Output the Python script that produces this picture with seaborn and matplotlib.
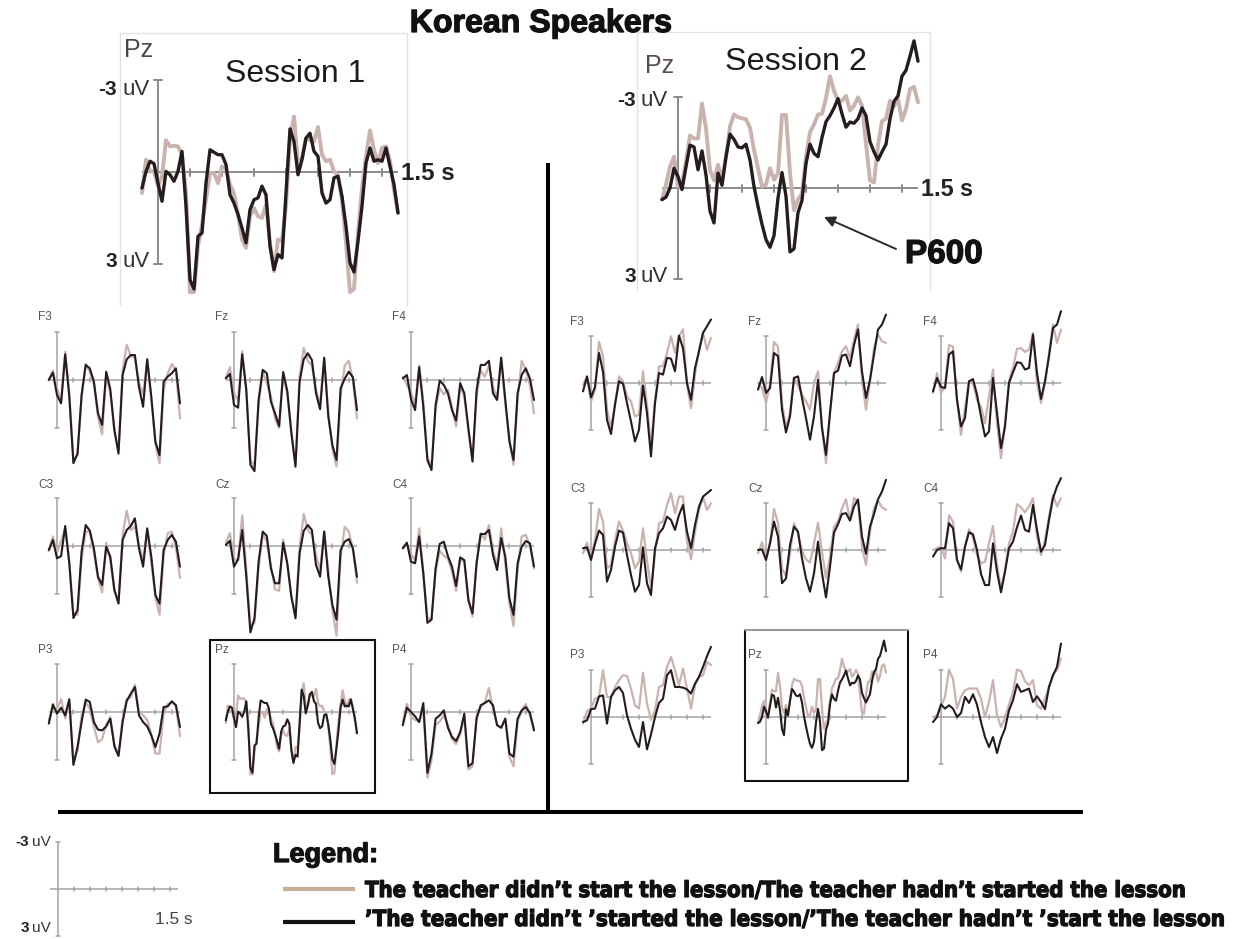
import numpy as np
import matplotlib
matplotlib.use("Agg")
import matplotlib.pyplot as plt
import matplotlib.patheffects as pe
from matplotlib.patches import Rectangle
from matplotlib import font_manager
from matplotlib.font_manager import FontProperties
import seaborn as sns

sns.set_theme(style="white")
plt.rcParams["font.family"] = ["Liberation Sans", "DejaVu Sans"]

W, H = 1245, 939

# ---------------------------------------------------------------- sample times (s)
t_fine = np.round(np.linspace(-0.1, 1.5, 65), 4)
t_coarse = np.round(np.linspace(-0.1, 1.5, 33), 4)

# ---------------------------------------------------------------- amplitudes (uV, negative plotted up)
# Session 1, enlarged Pz
s1_pz_light = [0.68, -0.40, -0.02, -0.02, 0.46, 0.14, -1.03, -0.83, -0.85, -0.83,
               -0.56, 0.68, 3.9, 3.9, 2.41, 1.71, 0.90, 0.03, 0.03, 0.36,
               -0.18, -0.10, 0.41, 0.70, 1.38, 2.19, 2.46, 1.44, 1.17, 1.44,
               1.49, 1.06, 2.30, 3.22, 2.19, 2.25, 1.11, -1.10, -1.8, -0.29,
               -0.45, -1.10, -1.03, -0.99, -1.46, -0.56, -0.35, -0.40, -0.02, 0.12,
               0.90, 2.30, 3.9, 3.8, 1.98, 0.52, -0.51, -1.35, -0.72, -0.29,
               -0.78, -0.83, -0.35, 0.57, 1.33]
s1_pz_dark = [0.52, -0.02, -0.35, -0.27, 0.36, 0.95, -0.02, 0.09, 0.30, -0.02,
              -0.67, 1.11, 3.5, 3.8, 2.09, 1.98, 0.36, -0.72, -0.64, -0.56,
              -0.56, -0.24, 0.74, 1.01, 1.38, 1.82, 2.3, 1.22, 0.90, 0.84,
              0.46, 0.74, 2.41, 3.17, 2.68, 2.79, 0.68, -1.4, -0.99, 0.09,
              -0.40, -1.10, -1.26, -0.67, -0.51, 0.68, 1.01, 0.90, 0.19, 0.14,
              0.79, 1.76, 2.95, 3.25, 2.25, 1.11, -0.29, -0.78, -0.35, -0.40,
              -0.35, -0.78, -0.18, 0.41, 1.33]

# Session 2, enlarged Pz
s2_pz_light = [0.38, -0.11, -0.70, -1.03, -0.05, -0.16, -0.87, -1.73, -1.63, -1.63,
               -2.78, -1.95, -0.60, -0.25, -0.76, -0.27, -1.03, -2.03, -2.42, -2.33,
               -2.29, -2.26, -1.98, -1.25, -0.65, -0.05, -0.11, -0.65, -0.27, -0.49,
               -2.4, -2.4, -0.49, 0.73, 0.38, 0.18, -1.03, -1.84, -2.09, -2.42,
               -2.44, -2.96, -3.68, -3.20, -2.87, -2.87, -3.03, -2.55, -2.71, -2.98,
               -2.71, -1.46, -0.25, -0.18, -1.41, -2.20, -2.28, -2.87, -2.69, -2.93,
               -2.22, -2.60, -3.25, -3.33, -2.82]
s2_pz_dark = [0.38, 0.3, 0.0, -0.65, -0.38, 0.05, -0.70, -1.41, -1.35, -0.60,
              -1.22, -0.43, 0.76, 1.15, -0.49, -0.09, -1.03, -1.77, -1.60, -1.35,
              -1.32, -1.44, -0.92, -0.05, 0.60, 1.19, 1.70, 1.95, 1.57, 0.33,
              -0.51, 0.27, 2.1, 2.0, 0.81, 0.41, -0.81, -1.44, -1.14, -1.03,
              -1.66, -2.18, -2.38, -2.63, -2.94, -2.44, -2.0, -2.17, -2.13, -2.28,
              -2.63, -2.38, -1.52, -1.19, -0.92, -1.19, -1.44, -2.28, -2.85, -3.03,
              -3.68, -3.87, -4.34, -4.84, -4.17]

# Session 1, scalp sites
s1_f3_light = [0.0, -0.6, 0.5, 1.3, -1.77, 0.8, 5.0, 4.7, 1.0, -1.0, -0.5, 0.3, 2.3, 3.4, -0.3, 0.8, 3.2,
               4.4, -0.6, -2.2, -1.5, -1.4, 0.2, 0.9, -1.2, 1.2, 4.0, 5.2, 0.6, -0.4, -1.0, -0.6, 2.4]
s1_f3_dark = [0.0, -0.46, 0.94, 1.46, -1.6, 1.04, 5.2, 4.6, 0.94, -0.94, -0.73, 0.1, 2.08, 2.81, -0.52, 0.58,
              3.13, 4.6, -0.31, -1.29, -1.56, -1.56, 0.46, 1.67, -1.3, 1.04, 3.85, 4.7, 0.1, -0.21, -0.42, -0.73, 1.46]
s1_fz_light = [-0.1, -0.8, 0.8, 1.3, -1.8, 0.6, 5.0, 5.4, 1.5, -0.5, 0.2, 1.0, 2.4, 3.0, -0.4, 0.9, 3.3,
               5.2, -0.2, -2.0, -1.2, -0.9, 0.6, 1.5, -1.3, 2.0, 4.3, 5.4, 1.0, -0.9, -1.2, 0.0, 2.4]
s1_fz_dark = [-0.1, -0.38, 1.56, 1.73, -1.6, 0.63, 5.3, 5.7, 1.25, -0.63, -0.42, 1.35, 2.08, 2.88, -0.5, 0.7,
              3.33, 5.42, 0.1, -1.29, -1.67, -1.25, 0.83, 1.83, -1.4, 2.29, 4.06, 5.0, 0.52, -0.08, -0.52, -0.17, 1.88]
s1_f4_light = [-0.2, 0.3, 0.8, 1.5, -0.9, 1.3, 4.8, 5.4, 1.8, 0.5, 0.9, 0.6, 1.7, 2.9, 0.4, 1.0, 3.2,
               5.0, 1.0, -0.6, -0.2, -0.9, 0.4, 1.2, -1.3, 1.5, 3.6, 5.3, 1.2, -1.2, -0.6, 0.3, 2.1]
s1_f4_dark = [-0.1, -0.31, 1.21, 1.88, -0.8, 1.67, 5.0, 5.63, 1.56, 0.04, 0.31, 0.83, 1.88, 2.54, 0.2, 0.83,
              3.02, 5.1, 0.63, -0.94, -0.94, -1.2, 0.83, 1.25, -1.4, 1.25, 3.85, 5.0, 0.83, -0.31, -0.73, -0.1, 1.25]
s1_c3_light = [0.3, -0.6, 0.4, -0.3, -1.1, 1.0, 4.2, 4.3, 0.8, -0.9, -0.9, 0.4, 2.0, 2.9, -0.2, 0.9, 2.8,
               3.5, -0.7, -2.2, -1.0, -1.2, 0.0, 0.9, -1.0, 1.0, 3.2, 4.3, 0.6, -0.8, -0.9, 0.1, 2.0]
s1_c3_dark = [0.25, -0.38, 0.77, 0.63, -1.25, 1.08, 4.5, 4.0, 0.35, -1.31, -0.96, 0.15, 1.92, 2.44, 0.04, 0.67,
              2.75, 3.6, -0.38, -1.0, -1.25, -1.73, 0.15, 1.29, -1.1, 0.67, 3.06, 3.6, 0.25, -0.38, -0.69, -0.27, 1.29]
s1_cz_light = [-0.2, -0.8, 0.8, 0.9, -1.9, 1.5, 5.0, 4.8, 1.3, -0.7, -0.3, 1.2, 2.7, 2.8, -0.4, 1.2, 3.2,
               4.3, 0.1, -2.0, -1.0, -0.7, 0.6, 1.5, -0.9, 1.6, 4.0, 5.6, 0.7, -1.2, -0.9, 0.2, 2.3]
s1_cz_dark = [-0.06, -0.33, 1.29, 0.83, -1.0, 1.92, 5.4, 4.5, 0.98, -0.9, -0.63, 1.4, 2.33, 2.33, -0.2, 1.08,
              3.17, 4.52, 0.46, -0.94, -1.31, -1.0, 1.19, 1.92, -0.9, 1.92, 3.69, 4.6, 0.25, -0.27, -0.44, 0.15, 1.92]
s1_c4_light = [0.1, -0.1, 0.5, 0.9, -1.1, 1.6, 4.5, 4.6, 1.6, 0.3, 0.6, 0.8, 1.6, 2.8, 0.8, 1.0, 3.4,
               4.4, 1.0, -0.8, -0.4, -1.3, 0.3, 1.2, -1.1, 1.1, 3.6, 5.0, 1.5, -0.6, -0.7, 0.0, 1.4]
s1_c4_dark = [0.15, -0.21, 0.98, 1.08, -0.6, 1.71, 4.8, 4.6, 1.4, -0.13, -0.27, 0.63, 1.29, 2.5, 0.71, 0.88,
              3.38, 4.21, 1.08, -0.75, -0.75, -1.0, 0.56, 1.5, -0.5, 0.67, 3.27, 4.31, 1.08, 0.04, -0.31, -0.17, 1.29]
s1_p3_light = [0.5, -0.2, -0.2, -0.8, 0.4, -0.6, 3.2, 2.4, 0.2, -0.6, -0.2, 0.9, 1.9, 1.7, 0.8, 0.3, 2.0,
               2.7, 0.4, -0.8, -0.9, -1.7, 0.0, 0.2, 0.5, 1.4, 2.6, 2.6, 0.1, -0.5, -0.6, -0.4, 1.5]
s1_p3_dark = [0.73, -0.48, 0.1, -0.27, 0.21, -0.8, 3.3, 2.19, 0.63, -0.77, -0.63, 0.63, 1.1, 1.15, 0.9, 0.42,
              2.15, 2.75, 0.63, -0.69, -1.15, -1.56, 0.21, 0.63, 0.9, 1.46, 2.19, 1.35, -0.31, -0.35, -0.67, -0.42, 0.94]
s1_p4_light = [0.6, -0.5, 0.3, 0.5, 0.6, -0.2, 4.1, 3.0, 0.8, 0.6, 0.2, 0.8, 1.7, 2.0, 1.4, 0.3, 3.6,
               3.4, 0.2, -0.3, -0.6, -1.5, -0.2, 0.8, 1.0, 0.4, 2.8, 3.4, 0.6, -0.1, -0.5, 0.2, 1.0]
s1_p4_dark = [0.83, -0.27, 0.0, 0.27, 0.63, -0.56, 3.8, 2.6, 0.42, 0.21, -0.1, 0.98, 1.56, 1.81, 1.25, 0.1,
              3.4, 3.2, 0.42, -0.42, -0.56, -0.73, -0.42, 0.83, 0.98, 0.42, 2.6, 2.8, 0.42, -0.1, -0.31, 0.06, 1.15]

# Session 2, scalp sites
s2_f3_light = [0.1, -0.38, 1.16, 0.42, -2.6, -1.69, 1.69, 2.79, 1.37, -0.42, -0.11, 0.85, 1.16, 2.11, 2.01, -0.74,
               1.37, 4.02, 1.06, -1.06, -1.06, -1.9, -2.96, -1.9, -2.96, -3.4, 0.1, 1.59, -0.53, -2.11, -3.17, -2.11, -2.85]
s2_f3_dark = [0.53, -0.42, 0.91, 0.25, -1.9, -0.7, 2.33, 3.23, 1.37, -0.11, 0.04, 1.27, 2.43, 3.7, 2.96, 0.17,
              1.9, 4.65, 1.27, -0.63, -0.53, -1.59, -1.54, -0.74, -3.0, -2.2, 0.0, 1.06, -0.95, -2.0, -3.17, -3.59, -4.02]
s2_fz_light = [0.0, 0.32, 1.27, 0.1, -2.6, -2.3, 1.27, 2.85, 1.9, -0.32, 0.17, 0.74, 1.16, 1.69, 0.0, -0.74,
               2.75, 5.07, 1.9, -0.63, -1.27, -2.01, -2.33, -1.59, -2.75, -3.7, -0.21, 1.69, -0.11, -2.22, -3.07, -2.64, -2.54]
s2_fz_dark = [0.42, -0.38, 0.63, 0.32, -1.9, -1.7, 1.69, 3.13, 2.11, -0.32, -0.42, 0.95, 2.22, 3.59, 2.11, -0.2,
              2.85, 4.55, 1.9, -0.63, -0.78, -1.73, -1.8, -1.06, -2.4, -3.4, -0.74, 0.95, -0.21, -1.8, -3.38, -3.7, -4.33]
s2_f4_light = [0.63, -0.63, 0.63, 0.21, -2.4, -2.3, 1.06, 3.28, 1.59, -0.11, 0.0, 1.06, 1.52, 2.54, 0.85, -0.85,
               2.54, 4.76, 2.54, -0.17, -0.95, -2.16, -2.2, -1.97, -2.11, -3.17, 0.0, 1.27, 0.0, -1.9, -3.7, -2.54, -3.38]
s2_f4_dark = [0.53, -0.32, 0.25, 0.32, -1.8, -2.0, 1.06, 2.75, 2.22, -0.11, -0.25, 0.74, 2.11, 3.38, 3.07, -0.32,
              1.9, 4.12, 2.75, 0.0, -0.68, -1.31, -1.27, -0.85, -0.95, -3.07, -0.63, 1.01, -0.11, -1.69, -3.49, -3.7, -4.55]
s2_c3_light = [0.21, -0.47, 0.42, -0.63, -2.6, -1.8, 1.16, 0.95, -0.63, -1.8, -1.23, -0.42, 0.21, 1.16, 0.74, -1.37,
               0.63, 2.43, 0.21, -1.69, -1.8, -2.85, -3.6, -2.33, -3.38, -3.38, -0.53, 0.59, -1.16, -2.54, -3.34, -2.54, -2.96]
s2_c3_dark = [-0.11, -0.17, 0.63, -0.38, -1.23, -0.95, 2.0, 1.27, -0.21, -1.23, -1.1, 0.32, 1.59, 2.64, 2.22, -0.17,
              2.11, 2.85, -0.11, -1.06, -1.37, -2.11, -1.9, -1.27, -2.22, -2.85, -1.16, -0.11, -1.59, -2.75, -3.38, -3.59, -3.8]
s2_cz_light = [0.21, -0.49, 0.53, -0.42, -2.6, -1.69, 1.16, 1.65, 0.21, -1.69, -1.06, 0.04, 0.59, 0.8, -0.42, -1.73,
               0.11, 1.8, 0.42, -1.48, -1.8, -2.64, -3.2, -1.9, -3.3, -3.0, -0.21, 0.95, -1.16, -2.64, -3.13, -2.7, -2.54]
s2_cz_dark = [0.0, -0.04, 0.63, -0.42, -1.8, -0.85, 2.1, 1.8, -0.32, -1.48, -1.16, 0.53, 1.8, 2.64, 1.48, -0.53,
              1.48, 3.0, 1.06, -1.1, -1.63, -2.28, -2.33, -1.86, -2.75, -3.2, -0.85, 0.25, -1.48, -2.28, -3.21, -3.7, -4.44]
s2_c4_light = [0.0, -0.11, -0.21, 0.53, -2.2, -1.8, 0.63, 1.37, -0.21, -1.31, -0.8, 0.32, 0.85, 0.74, -0.42, -1.52,
               0.95, 2.43, 1.27, -0.42, -1.16, -2.9, -2.7, -2.39, -2.75, -3.28, -0.85, 0.32, -0.63, -2.11, -3.49, -2.75, -3.28]
s2_c4_dark = [0.42, 0.0, -0.11, -0.11, -1.7, -1.37, 0.63, 1.23, -0.21, -1.12, -0.99, 0.0, 1.52, 2.22, 2.22, -0.42,
              1.37, 2.68, 1.37, -0.11, -0.53, -1.44, -2.18, -1.27, -1.16, -2.85, -1.27, 0.11, -0.32, -1.9, -3.28, -4.02, -4.55]
s2_p3_light = [0.42, -0.38, -0.53, -1.16, -1.27, -2.96, -1.27, -1.23, -1.9, -2.33, -2.64, -2.6, -1.8, -0.74, -0.53, -2.8,
               -0.85, 0.17, -0.42, -1.9, -2.01, -3.17, -3.8, -2.96, -2.01, -3.07, -1.8, -0.53, -2.01, -2.54, -2.64, -3.49, -3.28]
s2_p3_dark = [0.32, 0.21, -0.5, -0.53, -1.3, -1.37, 0.42, -1.27, -1.69, -1.9, -1.52, -0.11, 0.74, 1.44, 1.9, 0.32,
              2.05, 1.1, 0.0, -0.89, -1.16, -2.64, -2.96, -1.9, -1.9, -1.86, -1.75, -1.48, -2.11, -2.54, -3.17, -3.85, -4.44]
s2_p4_light = [0.0, -0.11, -0.68, -1.27, -3.0, -2.4, -0.53, -1.27, -1.69, -1.8, -1.8, -1.8, -1.16, 0.0, -0.95, -2.33,
               -0.11, 0.63, 0.06, -0.8, -1.59, -3.0, -2.9, -2.26, -2.01, -2.33, -0.74, -0.53, -1.16, -1.9, -2.7, -2.96, -3.7]
s2_p4_dark = [0.32, 0.0, -0.8, -0.53, -0.74, -0.53, 0.0, -0.25, -1.27, -0.89, -1.44, -0.78, 0.32, 1.27, 1.9, 1.27,
              2.28, 1.37, 0.74, -0.42, -1.06, -2.07, -1.59, -1.69, -1.8, -0.95, -1.31, -0.95, -0.5, -1.9, -2.64, -3.17, -4.65]

site_grid = [["F3", "Fz", "F4"], ["C3", "Cz", "C4"], ["P3", "Pz", "P4"]]
legend_labels = ["The teacher didn\u2019t start the lesson/The teacher hadn\u2019t started the lesson",
                 "\u2019The teacher didn\u2019t \u2019started the lesson/\u2019The teacher hadn\u2019t \u2019start the lesson"]

# site -> (times, light, dark)
session1 = {
    "F3": (t_coarse, s1_f3_light, s1_f3_dark), "Fz": (t_coarse, s1_fz_light, s1_fz_dark),
    "F4": (t_coarse, s1_f4_light, s1_f4_dark), "C3": (t_coarse, s1_c3_light, s1_c3_dark),
    "Cz": (t_coarse, s1_cz_light, s1_cz_dark), "C4": (t_coarse, s1_c4_light, s1_c4_dark),
    "P3": (t_coarse, s1_p3_light, s1_p3_dark), "Pz": (t_fine, s1_pz_light, s1_pz_dark),
    "P4": (t_coarse, s1_p4_light, s1_p4_dark),
}
session2 = {
    "F3": (t_coarse, s2_f3_light, s2_f3_dark), "Fz": (t_coarse, s2_fz_light, s2_fz_dark),
    "F4": (t_coarse, s2_f4_light, s2_f4_dark), "C3": (t_coarse, s2_c3_light, s2_c3_dark),
    "Cz": (t_coarse, s2_cz_light, s2_cz_dark), "C4": (t_coarse, s2_c4_light, s2_c4_dark),
    "P3": (t_coarse, s2_p3_light, s2_p3_dark), "Pz": (t_fine, s2_pz_light, s2_pz_dark),
    "P4": (t_coarse, s2_p4_light, s2_p4_dark),
}

# ---------------------------------------------------------------- styling
LIGHT = "#cab2ae"
DARK = "#241c1d"
LEGEND_LIGHT = "#c8ae96"
AX_SMALL = "#a3a3a3"
AX_BIG = "#8a8a8a"
FRAME = "#e2e2e2"

# a narrow bold face for the legend lines, if one is installed
_files = [f.fname for f in font_manager.fontManager.ttflist]
_narrow_pref = ["LiberationSansNarrow-Bold.", "NotoSans-CondensedBold.", "NotoSans-SemiCondensedBold.",
                "DejaVuSansCondensed-Bold.", "OpenSans-CondensedBold.", "OpenSans_Condensed-Bold."]
NARROW_FILE = next((fn for key in _narrow_pref for fn in _files if key in fn.replace("\\", "/").split("/")[-1]),
                   None)

fig = plt.figure(figsize=(W / 100, H / 100), dpi=100)


def px_axes(x0, y0, sx, sy, box):
    """Axes whose data origin (t=0, 0 uV) sits at pixel (x0, y0)."""
    l, t, r, b = box
    ax = fig.add_axes([l / W, 1 - b / H, (r - l) / W, (b - t) / H])
    ax.patch.set_alpha(0)
    return ax, ((l - x0) / sx, (r - x0) / sx), ((b - y0) / sy, (t - y0) / sy)


def finish(ax, xlim, ylim):
    ax.set_xlim(*xlim)
    ax.set_ylim(*ylim)
    ax.axis("off")
    for ln in ax.lines:
        ln.set_clip_on(False)


def draw_scale(ax, sx, sy, lw, color, tick_px, cap_px):
    c = cap_px / sx
    k = tick_px / sy
    ax.plot([0, 0], [-3, 3], color=color, lw=lw, solid_capstyle="butt")
    ax.plot([-c, c], [-3, -3], color=color, lw=lw)
    ax.plot([-c, c], [3, 3], color=color, lw=lw)
    ax.plot([-0.1, 1.5], [0, 0], color=color, lw=lw, solid_capstyle="butt")
    for tk in np.arange(0.2, 1.41, 0.2):
        ax.plot([tk, tk], [-k, k], color=color, lw=lw)


def draw_waves(ax, t, light, dark, lw_l, lw_d):
    sns.lineplot(x=t, y=light, ax=ax, color=LIGHT, linewidth=lw_l, legend=False,
                 sort=False, estimator=None)
    sns.lineplot(x=t, y=dark, ax=ax, color=DARK, linewidth=lw_d, legend=False,
                 sort=False, estimator=None)


# ---------------------------------------------------------------- enlarged Pz panels
big = [
    dict(x0=158, y0=172, sx=160, sy=30.8, box=(120, 33, 407, 305), data=(t_fine, s1_pz_light, s1_pz_dark)),
    dict(x0=678, y0=188, sx=160, sy=30.4, box=(637, 32, 930, 290), data=(t_fine, s2_pz_light, s2_pz_dark)),
]
for p in big:
    ax, xl, yl = px_axes(p["x0"], p["y0"], p["sx"], p["sy"], p["box"])
    draw_scale(ax, p["sx"], p["sy"], 1.4, AX_BIG, 3.5, 4)
    t, lt, dk = p["data"]
    draw_waves(ax, t, lt, dk, 2.8, 2.4)
    finish(ax, xl, yl)

# ---------------------------------------------------------------- 3x3 site grids
grids = [
    dict(sess=session1, x0s=[57, 234, 411], y0s=[380, 546, 712], sx=82, sy=16.0),
    dict(sess=session2, x0s=[591, 766, 941], y0s=[383, 550, 717], sx=80, sy=15.8),
]
for g in grids:
    for r, row in enumerate(site_grid):
        for c, site in enumerate(row):
            x0, y0 = g["x0s"][c], g["y0s"][r]
            ax, xl, yl = px_axes(x0, y0, g["sx"], g["sy"], (x0 - 25, y0 - 85, x0 + 130, y0 + 100))
            draw_scale(ax, g["sx"], g["sy"], 1.1, AX_SMALL, 1.6, 2.2)
            t, lt, dk = g["sess"][site]
            draw_waves(ax, t, lt, dk, 1.6, 1.5)
            finish(ax, xl, yl)

# calibration scale beside the legend
ax, xl, yl = px_axes(58, 889, 80, 15.8, (30, 830, 200, 939))
draw_scale(ax, 80, 15.8, 1.1, AX_SMALL, 1.6, 2.2)
finish(ax, xl, yl)

# ---------------------------------------------------------------- overlay for text and rules
ov = fig.add_axes([0, 0, 1, 1], zorder=5)
ov.set_xlim(0, W)
ov.set_ylim(H, 0)
ov.axis("off")
ov.patch.set_alpha(0)
renderer = fig.canvas.get_renderer()
HEAVY = [pe.withStroke(linewidth=0.9, foreground="#111")]


def fit(txt, width):
    w = txt.get_window_extent(renderer=renderer).width
    txt.set_fontsize(txt.get_fontsize() * width / w)
    return txt


def T(x, y, s, **kw):
    kw.setdefault("va", "baseline")
    kw.setdefault("ha", "left")
    return ov.text(x, y, s, **kw)


# panel frames (top, left, right)
for (l, t, r, b) in [(120, 33, 407, 305), (637, 32, 930, 290)]:
    ov.plot([l, l, r, r], [b, t, t, b], color=FRAME, lw=1.0)

fit(T(541, 32, "Korean Speakers", ha="center", fontsize=20, fontweight="bold", color="#111",
      path_effects=HEAVY), 262)

# session 1 enlarged labels
T(124, 57, "Pz", fontsize=18, color="#484848")
fit(T(225, 82, "Session 1", fontsize=21, color="#1c1c1c"), 140)
T(117, 95, "-3", ha="right", fontsize=15, fontweight="bold", color="#222")
T(122, 95, "uV", fontsize=16, color="#333")
T(117, 267, "3", ha="right", fontsize=15, fontweight="bold", color="#222")
T(122, 267, "uV", fontsize=16, color="#333")
fit(T(401, 180, "1.5 s", fontsize=15, fontweight="bold", color="#222"), 54)

# session 2 enlarged labels
T(645, 73, "Pz", fontsize=18, color="#5a4d4b")
fit(T(725, 70, "Session 2", fontsize=21, color="#1c1c1c"), 142)
T(636, 106, "-3", ha="right", fontsize=15, fontweight="bold", color="#222")
T(640, 106, "uV", fontsize=16, color="#333")
T(636, 282, "3", ha="right", fontsize=15, fontweight="bold", color="#222")
T(640, 282, "uV", fontsize=16, color="#333")
fit(T(921, 196, "1.5 s", fontsize=15, fontweight="bold", color="#222"), 52)
ov.annotate("", xy=(824, 217), xytext=(896, 249),
            arrowprops=dict(arrowstyle="-|>", color="#2a2a2a", lw=1.4, mutation_scale=16,
                            shrinkA=0, shrinkB=0))
fit(T(905, 263, "P600", fontsize=20, fontweight="bold", color="#111", path_effects=HEAVY), 78)

# site labels
for g, lx, ly in [(grids[0], [38, 215, 392], [320, 488, 653]),
                  (grids[1], [570, 748, 923], [325, 492, 658])]:
    for r, row in enumerate(site_grid):
        for c, site in enumerate(row):
            T(lx[c], ly[r], site, fontsize=8.5, color="#555")

# highlighted Pz boxes
ov.add_patch(Rectangle((210, 640), 165, 153, fill=False, ec="#111", lw=1.5))
ov.plot([745, 745, 908, 908], [630, 781, 781, 630], color="#111", lw=1.5)
ov.plot([745, 908], [630, 630], color="#9a9a9a", lw=1.5)

# session divider and baseline rule
ov.plot([548, 548], [163, 812], color="black", lw=2.9, solid_capstyle="butt")
ov.plot([58, 1083], [812, 812], color="black", lw=2.9, solid_capstyle="butt")

# calibration labels
T(29, 846, "-3", ha="right", fontsize=11, fontweight="bold", color="#222")
T(32, 846, "uV", fontsize=11, color="#333")
T(29, 932, "3", ha="right", fontsize=11, fontweight="bold", color="#222")
T(32, 932, "uV", fontsize=11, color="#333")
fit(T(155, 924, "1.5 s", fontsize=12, color="#444"), 37)

# legend
fit(T(273, 862, "Legend:", fontsize=19, fontweight="bold", color="#111", path_effects=HEAVY), 105)
ov.plot([283, 355], [889, 889], color=LEGEND_LIGHT, lw=3.0, solid_capstyle="butt")
ov.plot([283, 355], [922, 922], color="#161212", lw=3.0, solid_capstyle="butt")
legend_font = dict(fontproperties=FontProperties(fname=NARROW_FILE)) if NARROW_FILE else dict(fontweight="bold")
for lab, yb, wd in [(legend_labels[0], 897, 822), (legend_labels[1], 926, 861)]:
    txt = T(365, yb, lab, color="#111", path_effects=HEAVY, **legend_font)
    txt.set_fontsize(18)
    fit(txt, wd)

fig.savefig("out.png", dpi=100)
